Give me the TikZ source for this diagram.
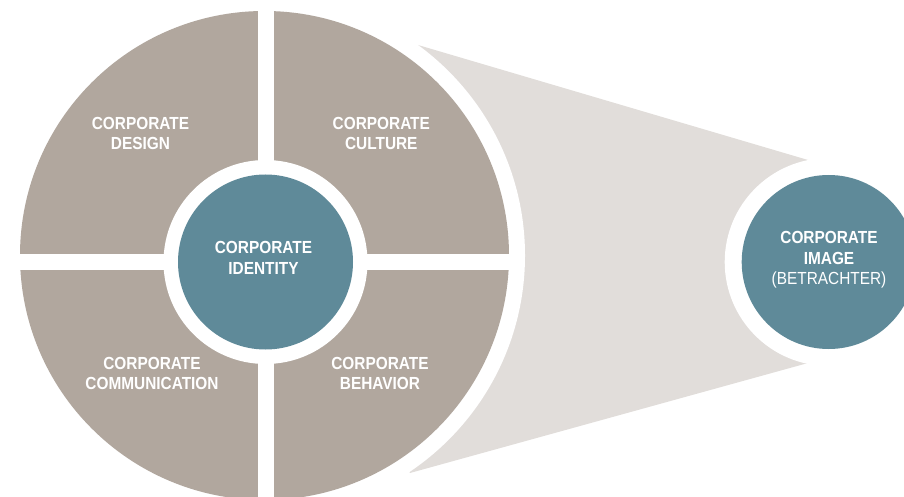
\documentclass[tikz,border=0pt]{standalone}
\usepackage{fontspec}
\setmainfont{Liberation Sans}[FakeStretch=0.88]
\definecolor{quad}{HTML}{B1A79E}
\definecolor{cone}{HTML}{E1DDDA}
\definecolor{teal}{HTML}{5F8A99}
\begin{document}
\begin{tikzpicture}[x=1pt,y=-1pt,
  lbl/.style={text=white,align=center,inner sep=0pt,anchor=north,
    font=\fontsize{17.5}{20.5}\selectfont\bfseries},
  disk/.style={circle,inner sep=0pt,draw=none}]
\useasboundingbox (0,0) rectangle (904,497);
% cone
\fill[cone] (418,45) -- (808,160) -- (829,262) -- (808,363) -- (410,473) -- (265,256) -- cycle;
% big circle with white ring
\fill[white] (264.5,255.5) circle[radius=260.5];
\fill[quad] (264.5,255.5) circle[radius=244.5];
% white cross
\fill[white] (257.5,0) rectangle (273.5,497);
\fill[white] (0,254) rectangle (520,270);
% identity circle
\node[disk,fill=white,minimum size=204pt] (idring) at (265.5,262) {};
\node[disk,fill=teal,minimum size=175pt] (identity) at (265.5,262) {};
% image circle
\node[disk,fill=white,minimum size=208pt] (imgring) at (828.7,262) {};
\node[disk,fill=teal,minimum size=174pt] (image) at (828.7,262) {};
% labels
\node[lbl] (design) at (140.5,117) {CORPORATE\\DESIGN};
\node[lbl] (culture) at (381.3,117) {CORPORATE\\CULTURE};
\node[lbl] (comm) at (152,357) {CORPORATE\\COMMUNICATION};
\node[lbl] (behav) at (380,357) {CORPORATE\\BEHAVIOR};
\node[lbl] (idtext) at (263.5,241.5) {CORPORATE\\IDENTITY};
\node[lbl] (imgtext) at (829,231.5) {CORPORATE\\IMAGE\\\mdseries(BETRACHTER)};
\end{tikzpicture}
\end{document}
